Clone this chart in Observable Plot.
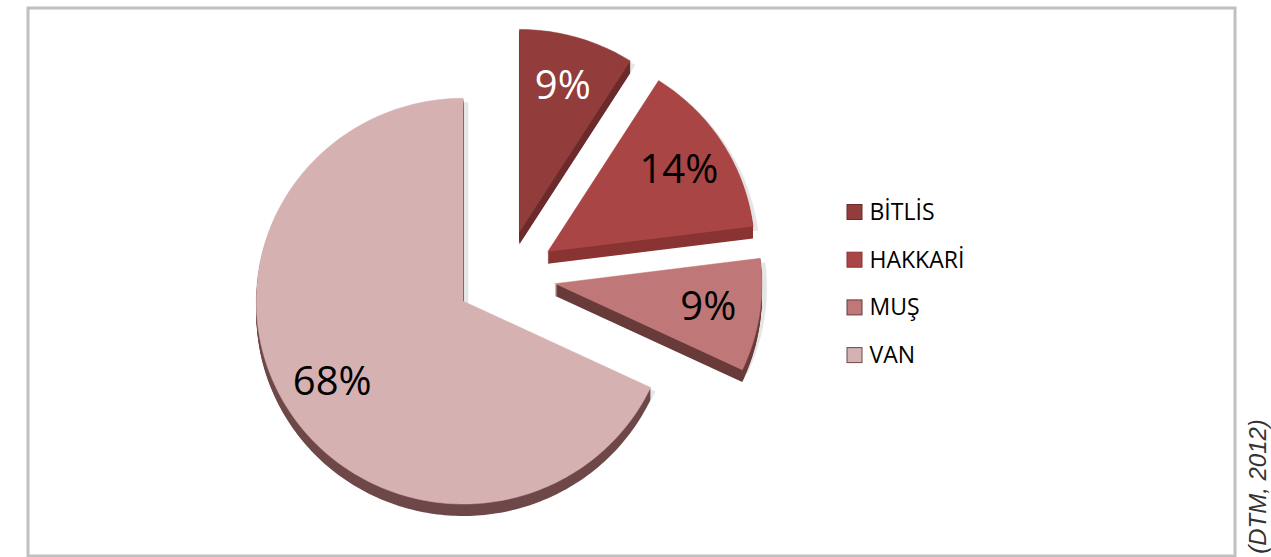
<!DOCTYPE html>
<html><head><meta charset="utf-8">
<script src="https://cdn.jsdelivr.net/npm/d3@7"></script>
<script src="https://cdn.jsdelivr.net/npm/@observablehq/plot@0.6"></script>
<style>html,body{margin:0;padding:0;background:#fff;} #chart{width:1271px;height:557px;overflow:hidden}</style>
</head><body><div id="chart"></div>
<script>
// ---- data ----
const categories = ["BİTLİS", "HAKKARİ", "MUŞ", "VAN"];
const shares = [9, 14, 9, 68];
const source = "(DTM, 2012)";

// ---- style / layout constants ----
const W = 1271, H = 557;
const topColors  = ["#933c3c", "#aa4545", "#c07777", "#d6b1b1"];
const sideColors = ["#6c2a2a", "#8a3333", "#683a3a", "#6e4848"];
const labelInk   = ["#ffffff", "#000000", "#000000", "#000000"];
const center = [505, 276], R = 207, yf = 0.98, explode = 50, explodeY = 0.92, depth = 12, labelR = 0.75;

const arcs = d3.pie().sort(null).value(d => d)(shares);
const slices = arcs.map((a, i) => {
  const mid = (a.startAngle + a.endAngle) / 2;
  const vx = center[0] + explode * Math.sin(mid);
  const vy = center[1] - explode * Math.cos(mid) * explodeY;
  const pts = [[vx, vy]];
  const n = Math.max(2, Math.ceil((a.endAngle - a.startAngle) / (Math.PI / 180)));
  for (let k = 0; k <= n; k++) {
    const t = a.startAngle + (a.endAngle - a.startAngle) * k / n;
    pts.push([vx + R * Math.sin(t), vy - R * Math.cos(t) * yf]);
  }
  return {
    i, name: categories[i], pts,
    lx: vx + labelR * R * Math.sin(mid),
    ly: vy - labelR * R * Math.cos(mid) * yf,
    label: shares[i] + "%"
  };
});

const marks = [];
for (const s of slices) {
  const poly = s.pts.map(([x, y]) => ({x, y}));
  // soft shadow
  marks.push(Plot.line(poly, {x: "x", y: "y", fill: "#000", fillOpacity: 0.10, stroke: "none", dx: 5, dy: 4}));
  // extruded side
  const side = [];
  for (let k = 1; k <= depth; k++) for (const [x, y] of s.pts) side.push({x, y: y + k, z: k});
  marks.push(Plot.line(side, {x: "x", y: "y", z: "z", fill: sideColors[s.i], stroke: "none"}));
  // top face
  marks.push(Plot.line(poly, {x: "x", y: "y", fill: topColors[s.i], stroke: topColors[s.i], strokeWidth: 0.5}));
}
// percentage labels
marks.push(Plot.text(slices, {x: "lx", y: "ly", text: "label", fill: d => labelInk[d.i],
  fontSize: 40, fontFamily: "Open Sans", textAnchor: "middle", lineAnchor: "middle"}));

// legend
const legend = categories.map((c, i) => ({c, i, yc: 212 + i * 47.7}));
marks.push(Plot.rect(legend, {x1: () => 847, x2: () => 862, y1: d => d.yc - 7.5, y2: d => d.yc + 7.5,
  fill: d => topColors[d.i], stroke: d => sideColors[d.i], strokeWidth: 1}));
marks.push(Plot.text(legend, {x: () => 869, y: "yc", text: "c", fontSize: 23, fontFamily: "Open Sans",
  fill: "#000", textAnchor: "start", lineAnchor: "middle"}));

// frame
marks.push(Plot.frame({stroke: "#c0c0c0", strokeWidth: 3, insetLeft: 27.5, insetTop: 7.5, insetRight: W - 1234.5, insetBottom: H - 555.5}));

// source
marks.push(Plot.text([source], {x: () => 1258, y: () => 486, text: d => d, rotate: -90, fontSize: 24,
  fontStyle: "italic", fontFamily: "Liberation Sans", fill: "#333", textAnchor: "middle", lineAnchor: "middle"}));

const chart = Plot.plot({
  width: W, height: H,
  margin: 0,
  x: {domain: [0, W], axis: null},
  y: {domain: [H, 0], axis: null},
  style: {background: "#fff", overflow: "visible"},
  marks
});
document.getElementById("chart").append(chart);
</script>
</body></html>
